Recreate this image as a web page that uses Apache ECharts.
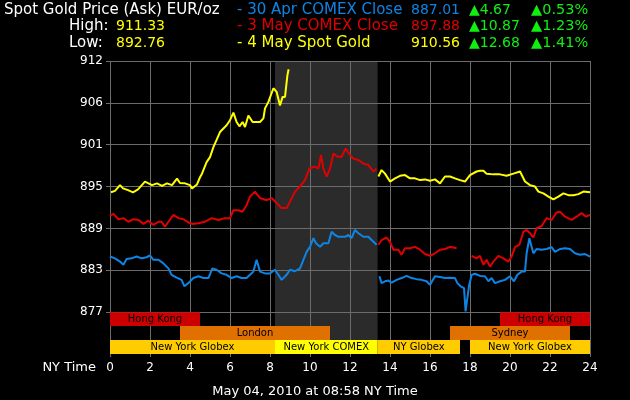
<!DOCTYPE html>
<html>
<head>
<meta charset="utf-8">
<script src="https://cdn.jsdelivr.net/npm/echarts@6/dist/echarts.min.js"></script>
<style>
  html, body { margin: 0; padding: 0; background: #000; }
  #chart { width: 630px; height: 400px; }
</style>
</head>
<body>
<div id="chart"></div>
<script>
// y axis ticks (price) and the labels the chart prints for them
const yTicks = [877, 882.8333, 888.6667, 894.5, 900.3333, 906.1667, 912];
const yTickLabels = ['877', '883', '889', '895', '901', '906', '912'];

// 4 May spot gold (today, up to 08:56)
const yellowAHours = [0.05, 0.25, 0.5, 0.65, 0.9, 1.15, 1.4, 1.75, 2.1, 2.35, 2.6, 2.85, 3.1, 3.35, 3.5, 3.75, 4.0, 4.1, 4.35, 4.5, 4.6, 4.83, 5.0, 5.17, 5.33, 5.5, 5.67, 5.83, 6.0, 6.17, 6.33, 6.47, 6.63, 6.75, 6.92, 7.13, 7.33, 7.5, 7.67, 7.75, 7.92, 8.17, 8.33, 8.5, 8.63, 8.75, 8.87, 8.93];
const yellowAPrices = [893.7, 893.9, 894.7, 894.25, 894.0, 893.7, 894.1, 895.2, 894.7, 894.95, 894.6, 894.95, 894.7, 895.6, 895.0, 894.95, 894.7, 894.25, 894.8, 895.8, 896.3, 897.9, 898.6, 900.0, 901.0, 902.1, 902.6, 903.05, 903.75, 904.8, 903.5, 902.9, 903.5, 902.8, 904.4, 903.5, 903.5, 903.5, 904.0, 905.4, 906.3, 908.2, 907.7, 905.8, 907.0, 907.0, 910.0, 910.85];
// after-hours drawn in the yellow colour (13:25 - 24:00)
const yellowBHours = [13.42, 13.58, 13.75, 14.0, 14.25, 14.5, 14.75, 15.0, 15.25, 15.5, 15.75, 16.0, 16.25, 16.5, 16.75, 17.0, 17.25, 17.5, 17.75, 18.0, 18.33, 18.5, 18.67, 18.83, 19.17, 19.5, 19.83, 20.17, 20.5, 20.75, 21.0, 21.25, 21.42, 21.67, 21.92, 22.17, 22.42, 22.67, 22.92, 23.17, 23.42, 23.67, 24];
const yellowBPrices = [895.9, 896.8, 896.3, 895.2, 895.65, 896.0, 896.1, 895.65, 895.65, 895.4, 895.5, 895.3, 895.5, 894.95, 895.9, 895.9, 895.65, 895.4, 895.2, 896.1, 896.6, 896.7, 896.7, 896.3, 896.2, 896.2, 896.0, 896.3, 896.6, 895.2, 894.7, 894.5, 893.8, 893.55, 893.1, 892.7, 893.1, 893.55, 893.3, 893.3, 893.45, 893.8, 893.7];

// 3 May
const redAHours = [0, 0.17, 0.42, 0.67, 0.92, 1.17, 1.42, 1.67, 1.92, 2.17, 2.42, 2.58, 2.75, 2.92, 3.17, 3.42, 3.67, 3.92, 4.12, 4.42, 4.75, 5.08, 5.42, 5.75, 6.0, 6.17, 6.42, 6.62, 6.83, 7.0, 7.25, 7.5, 7.83, 8.08, 8.33, 8.58, 8.83, 9.0, 9.25, 9.5, 9.75, 9.97, 10.25, 10.42, 10.55, 10.67, 10.83, 11.0, 11.17, 11.37, 11.58, 11.78, 11.95, 12.17, 12.42, 12.67, 12.92, 13.17, 13.33];
const redAPrices = [890.4, 890.7, 889.95, 890.1, 889.6, 889.95, 889.85, 889.3, 889.75, 889.15, 889.6, 889.6, 888.9, 889.6, 890.55, 890.1, 889.95, 889.5, 889.3, 889.4, 889.6, 890.1, 889.85, 890.1, 890.1, 891.2, 891.2, 891.0, 891.9, 893.1, 893.8, 892.9, 892.6, 892.9, 892.2, 891.5, 891.5, 892.4, 893.8, 894.5, 895.4, 897.0, 897.3, 897.0, 898.9, 897.0, 895.9, 897.0, 899.1, 898.65, 898.65, 899.8, 899.1, 898.4, 898.2, 897.7, 897.5, 896.6, 897.0];
const redBHours = [13.42, 13.58, 13.83, 14.0, 14.17, 14.42, 14.58, 14.75, 15.0, 15.25, 15.5, 15.75, 16.0, 16.25, 16.5, 16.75, 17.0, 17.33];
const redBPrices = [886.4, 887.05, 887.4, 886.8, 885.7, 885.7, 885.0, 885.9, 885.9, 886.1, 885.7, 885.1, 884.85, 885.2, 885.7, 885.8, 886.1, 885.9];
const redCHours = [18.08, 18.33, 18.5, 18.67, 18.83, 19.0, 19.17, 19.42, 19.67, 19.92, 20.08, 20.25, 20.47, 20.67, 20.83, 21.0, 21.17, 21.33, 21.58, 21.83, 22.08, 22.33, 22.5, 22.75, 23.08, 23.33, 23.58, 23.8, 24];
const redCPrices = [884.85, 884.5, 884.85, 883.6, 884.3, 883.35, 884.05, 884.85, 884.5, 884.05, 884.75, 886.05, 886.4, 888.2, 888.45, 888.0, 887.4, 888.7, 889.0, 890.1, 889.85, 890.9, 891.0, 890.3, 889.85, 890.3, 890.8, 890.3, 890.55];

// 30 Apr
const blueAHours = [0, 0.25, 0.5, 0.67, 0.83, 1.08, 1.33, 1.58, 1.83, 2.0, 2.17, 2.42, 2.67, 2.92, 3.08, 3.33, 3.58, 3.72, 3.92, 4.17, 4.42, 4.67, 4.92, 5.12, 5.33, 5.58, 5.83, 6.08, 6.33, 6.58, 6.83, 7.0, 7.17, 7.33, 7.5, 7.75, 8.0, 8.25, 8.42, 8.58, 8.83, 9.0, 9.25, 9.5, 9.67, 9.83, 10.0, 10.17, 10.3, 10.5, 10.67, 10.92, 11.08, 11.25, 11.42, 11.58, 11.75, 11.92, 12.08, 12.25, 12.42, 12.67, 12.92, 13.08, 13.33];
const blueAPrices = [884.75, 884.5, 884.05, 883.6, 884.4, 884.5, 884.75, 884.5, 884.65, 884.9, 884.3, 884.3, 883.8, 883.1, 882.2, 881.8, 881.5, 880.6, 881.05, 881.75, 882.0, 881.75, 881.75, 883.1, 882.9, 882.4, 882.2, 881.75, 882.0, 881.75, 881.75, 882.2, 882.65, 884.3, 882.65, 882.4, 882.4, 882.9, 882.2, 881.5, 882.2, 882.9, 882.7, 883.1, 884.3, 885.4, 886.1, 887.3, 886.6, 886.1, 886.6, 886.6, 888.2, 887.75, 887.5, 887.5, 887.5, 887.75, 887.3, 888.45, 888.0, 887.5, 887.5, 887.05, 886.4];
const blueBHours = [13.47, 13.58, 13.75, 13.92, 14.08, 14.33, 14.58, 14.83, 15.08, 15.33, 15.58, 15.83, 16.0, 16.25, 16.5, 16.75, 17.0, 17.25, 17.37, 17.53, 17.7, 17.78, 17.82, 17.88, 17.95, 18.08, 18.25, 18.5, 18.75, 18.92, 19.08, 19.25, 19.5, 19.75, 20.0, 20.2, 20.37, 20.58, 20.75, 20.83, 20.97, 21.08, 21.17, 21.33, 21.58, 21.83, 22.08, 22.25, 22.5, 22.75, 23.0, 23.25, 23.5, 23.75, 24];
const blueBPrices = [882.0, 881.05, 881.3, 881.4, 881.1, 881.5, 881.75, 882.05, 881.75, 881.6, 881.5, 881.3, 880.8, 882.0, 881.9, 881.75, 881.8, 881.75, 881.05, 880.6, 880.35, 877.1, 878.0, 879.2, 880.6, 882.2, 882.35, 882.05, 882.0, 881.3, 881.75, 881.05, 881.3, 881.5, 882.0, 881.3, 882.2, 882.65, 882.65, 885.2, 887.3, 886.1, 885.2, 885.8, 885.7, 885.8, 886.05, 885.4, 885.8, 885.9, 885.8, 885.2, 885.0, 885.1, 884.75];

// trading sessions (NY hours) shown under the plot
const sessionNames = ['Hong Kong', 'Hong Kong', 'London', 'Sydney', 'New York Globex', 'New York COMEX', 'NY Globex', 'New York Globex'];
const sessionStart = [0, 19.5, 3.5, 17, 0, 8.25, 13.38, 18];
const sessionEnd = [4.5, 24, 11, 23, 8.25, 13.38, 17.5, 24];
const sessionRow = [0, 0, 1, 1, 2, 2, 2, 2];
const comexHours = [8.25, 13.38];

// header texts
const legendNames = ['- 30 Apr COMEX Close', '- 3 May COMEX Close', '- 4 May Spot Gold'];
const closeValues = ['887.01', '897.88', '910.56'];
const changeValues = ['4.67', '10.87', '12.68'];
const changePcts = ['0.53%', '1.23%', '1.41%'];
const highLow = ['911.33', '892.76'];

const FONT = '"DejaVu Sans", Verdana, sans-serif';
const colors = { blue: '#0e84e4', red: '#e00000', yellow: '#ffff00', green: '#11ee11' };
const sessionColors = {
  'Hong Kong': '#cc0000', 'London': '#e07000', 'Sydney': '#e07000',
  'New York Globex': '#ffcc00', 'NY Globex': '#ffcc00', 'New York COMEX': '#ffff00'
};

const step = (912 - 877) / 6;
const yMin = 912 - 7 * step;
const rowH = step / 3;

const chart = echarts.init(document.getElementById('chart'), null, { renderer: 'canvas' });

const pairs = (h, p) => h.map((x, i) => [x, p[i]]);
const segments = [
  [blueAHours, blueAPrices, colors.blue],
  [blueBHours, blueBPrices, colors.blue],
  [redAHours, redAPrices, colors.red],
  [redBHours, redBPrices, colors.red],
  [redCHours, redCPrices, colors.red],
  [yellowBHours, yellowBPrices, colors.yellow],
  [yellowAHours, yellowAPrices, colors.yellow]
];

const lineSeries = segments.map(s => ({
  type: 'line',
  data: pairs(s[0], s[1]),
  showSymbol: false,
  symbol: 'none',
  z: 5,
  lineStyle: { color: s[2], width: 2 },
  itemStyle: { color: s[2] }
}));

const sessionAreas = sessionNames.map((name, i) => {
  const top = 877 - sessionRow[i] * rowH;
  return [
    { name: name, xAxis: sessionStart[i], yAxis: top, itemStyle: { color: sessionColors[name], opacity: 1 } },
    { xAxis: sessionEnd[i], yAxis: top - rowH }
  ];
});

const txt = (text, x, y, fill, size, align) => ({
  type: 'text',
  silent: true,
  style: {
    text: text, x: x, y: y, fill: fill,
    font: (size || 15) + 'px ' + FONT,
    align: align || 'left', verticalAlign: 'middle'
  }
});

const lineY = [10, 26.5, 43];
const legendColors = [colors.blue, colors.red, colors.yellow];
const graphics = [
  txt('Spot Gold Price (Ask) EUR/oz', 4, lineY[0], '#fff'),
  txt('High:', 69, lineY[1], '#fff'),
  txt(highLow[0], 116, lineY[1], colors.yellow, 14),
  txt('Low:', 69, lineY[2], '#fff'),
  txt(highLow[1], 116, lineY[2], colors.yellow, 14),
  txt('NY Time', 96, 368, '#fff', 13, 'right'),
  txt('May 04, 2010 at 08:58 NY Time', 315, 392, '#fff', 13, 'center')
];
legendNames.forEach((n, i) => {
  graphics.push(txt(n, 237, lineY[i], legendColors[i]));
  graphics.push(txt(closeValues[i], 411, lineY[i], legendColors[i], 14));
  graphics.push(txt('\u25B2' + changeValues[i], 469, lineY[i], colors.green, 14));
  graphics.push(txt('\u25B2' + changePcts[i], 531, lineY[i], colors.green, 14.5));
});

const option = {
  backgroundColor: '#000',
  animation: false,
  grid: { left: 110, right: 40, top: 61, bottom: 46 },
  xAxis: {
    type: 'value', min: 0, max: 24, interval: 2,
    axisLine: { show: false },
    axisTick: { show: true, length: 3, lineStyle: { color: '#6c6c6c' } },
    axisLabel: { color: '#fff', fontSize: 12, fontFamily: FONT, margin: 8 },
    splitLine: { show: true, lineStyle: { color: '#6c6c6c', width: 1 } }
  },
  yAxis: {
    type: 'value', min: yMin, max: 912,
    axisLine: { show: false },
    axisTick: { show: true, length: 4, customValues: yTicks, lineStyle: { color: '#6c6c6c' } },
    axisLabel: {
      customValues: yTicks, color: '#fff', fontSize: 12, fontFamily: FONT, margin: 7,
      formatter: v => yTickLabels[Math.round((v - 877) / step)] || ''
    },
    splitLine: { show: true, lineStyle: { color: '#6c6c6c', width: 1 } }
  },
  graphic: graphics,
  series: [
    {
      type: 'line', data: [], z: -1, silent: true,
      markArea: {
        silent: true, z: -1,
        itemStyle: { color: '#2b2b2b', opacity: 1 },
        data: [[{ xAxis: comexHours[0], yAxis: yMin }, { xAxis: comexHours[1], yAxis: 912 }]]
      }
    },
    {
      type: 'line', data: [], z: 3, silent: true,
      markArea: {
        silent: true,
        label: { show: true, position: 'inside', color: '#000', fontSize: 10, fontFamily: FONT },
        data: sessionAreas
      }
    }
  ].concat(lineSeries)
};

chart.setOption(option);
</script>
</body>
</html>
